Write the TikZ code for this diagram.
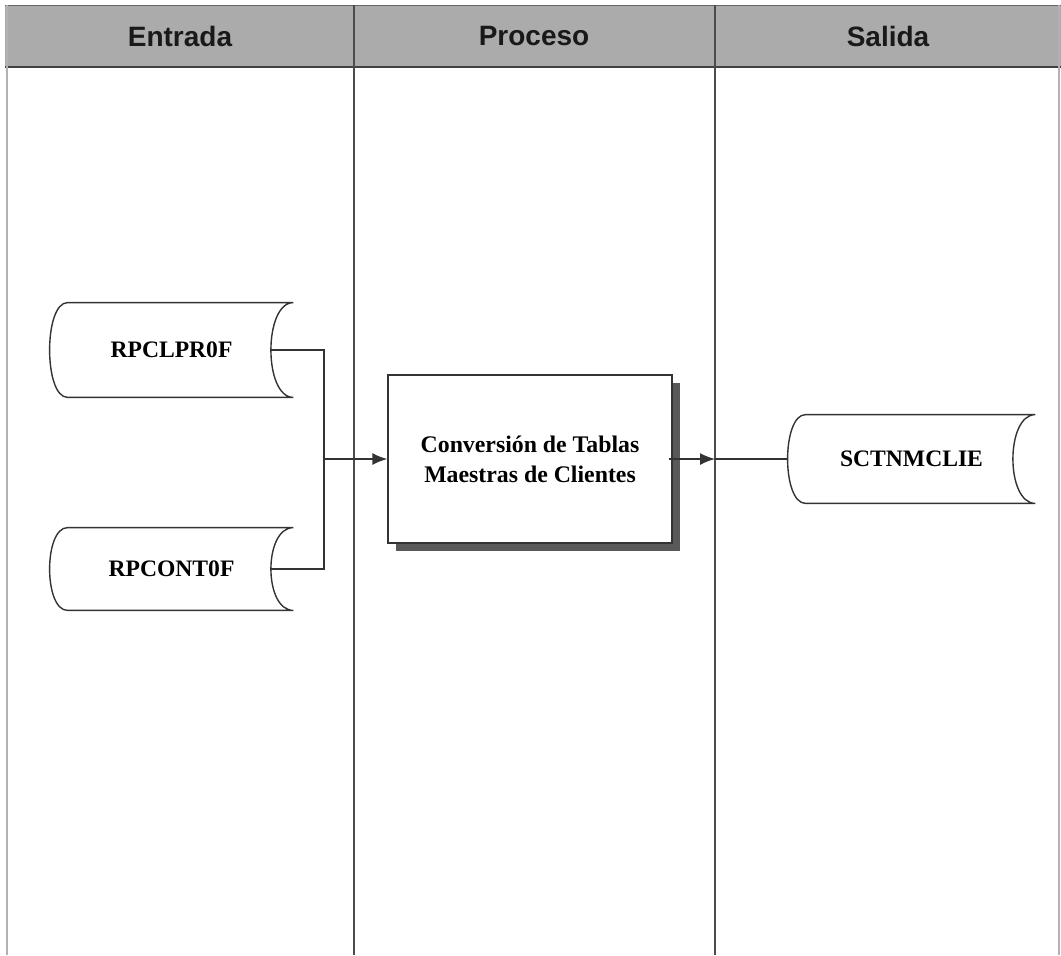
\documentclass[tikz,border=0pt]{standalone}
\usepackage{fontspec}
\setmainfont{Liberation Serif}
\newfontfamily\hdrfont{Liberation Sans}
\usetikzlibrary{arrows.meta,shadows,calc}
\tikzset{
  lane/.style={draw=black!70, line width=0.75pt},
  border/.style={draw=black!30, line width=0.6pt},
  hdr/.style={font=\hdrfont\bfseries\fontsize{14}{16}\selectfont, text=black!90},
  store/.style={draw=none, inner sep=0pt, font=\bfseries\fontsize{11.8}{14}\selectfont},
  storeline/.style={draw=black!80, line width=0.7pt},
  procbox/.style={draw=black!80, line width=0.7pt, fill=white, inner sep=0pt,
    minimum width=142pt, minimum height=84pt, align=center,
    font=\bfseries\fontsize{11.9}{15}\selectfont,
    drop shadow={shadow xshift=4pt, shadow yshift=-4pt, fill=black!65, opacity=1}},
  conn/.style={draw=black!80, line width=0.7pt},
  arr/.style={conn, -{Latex[length=7.5pt,width=6pt]}}
}
\newcommand{\drawstore}[1]{%
  \draw[storeline] ([xshift=9pt]#1.north west) -- (#1.north east)
    .. controls ([xshift=-15pt]#1.north east) and ([xshift=-15pt]#1.south east) .. (#1.south east)
    -- ([xshift=9pt]#1.south west)
    .. controls ([xshift=-3pt]#1.south west) and ([xshift=-3pt]#1.north west) .. cycle;}
\begin{document}
\begin{tikzpicture}[x=0.5pt,y=-0.5pt]
\useasboundingbox (0,0) rectangle (1061,955);
% header band
\fill[black!33] (5,5) rectangle (1061,67);
\draw[black!60, line width=0.5pt] (5,5) -- (1061,5);
\draw[black!75, line width=0.8pt] (5,67) -- (1061,67);
% lane borders
\draw[border] (7,5) -- (7,955);
\draw[border] (1059,5) -- (1059,955);
\draw[lane] (354,5) -- (354,955);
\draw[lane] (715,5) -- (715,955);
% header texts
\node[hdr] (hE) at (180,36) {Entrada};
\node[hdr] (hP) at (534,36) {Proceso};
\node[hdr] (hS) at (888,36) {Salida};
% stores
\node[store, minimum width=121.5pt, minimum height=47pt] (s1) at (171.5,350) {RPCLPR0F};
\node[store, minimum width=121.5pt, minimum height=41pt] (s2) at (171.5,569) {RPCONT0F};
\node[store, minimum width=123.5pt, minimum height=44pt] (s3) at (911.5,459) {SCTNMCLIE};
\drawstore{s1}
\drawstore{s2}
\drawstore{s3}
% process
\node[procbox] (p) at (530,459) {Conversión de Tablas\\Maestras de Clientes};
% connectors
\coordinate (j) at (324,459);
\coordinate (o) at (715,459);
\draw[conn] ([xshift=-11pt]s1.east) -| (j);
\draw[conn] ([xshift=-11pt]s2.east) -| (j);
\draw[arr] (j) -- (p.west);
\draw[arr] ([xshift=-2pt]p.east) -- (o);
\draw[conn] (o) -- (s3.west);
\end{tikzpicture}
\end{document}
